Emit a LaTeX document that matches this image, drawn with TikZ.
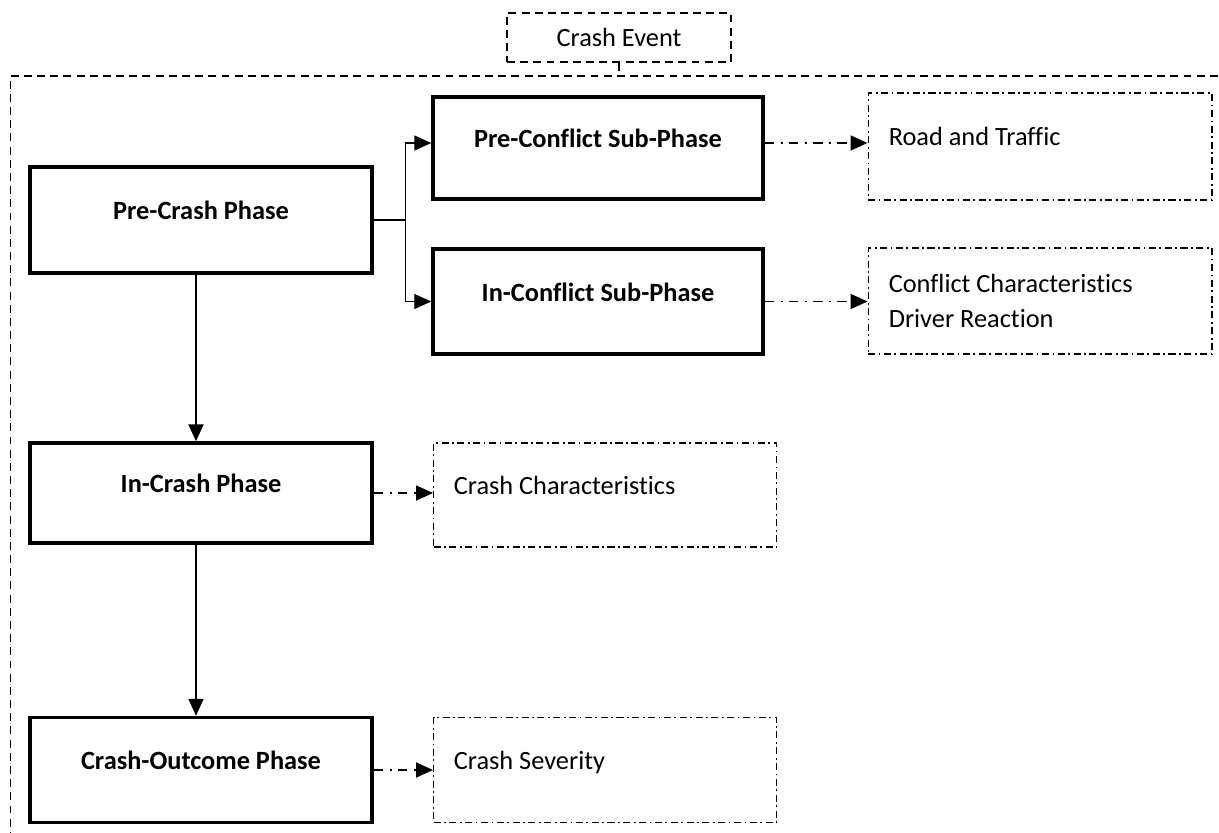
\documentclass[tikz,border=0pt]{standalone}
\usepackage{fontspec}
\setmainfont{Carlito}[Ligatures=NoCommon]
\usetikzlibrary{
    arrows.meta,
    positioning
}

\begin{document}
\begin{tikzpicture}[x=0.02cm,y=-0.02cm,font=\fontsize{15}{20}\selectfont,
    phasebox/.style={draw,line width=2pt,font=\fontsize{15}{20}\selectfont\bfseries,
        minimum width=6.84cm,text height=11pt,text depth=11.5pt},
    factorbox/.style={draw,line width=0.6pt,dash pattern=on 4pt off 2pt on 1pt off 2pt,
        inner xsep=0.4cm,text width=6.05cm,align=flush left,minimum width=6.86cm},
    lifted/.style={text height=11pt,text depth=12pt},
    eventbox/.style={draw,line width=0.8pt,dash pattern=on 4.5pt off 3pt},
    flow/.style={-{Triangle[length=0.34cm,width=0.3cm]},line width=1.1pt},
    link/.style={-{Triangle[length=0.34cm,width=0.3cm]},line width=1pt,
        dash pattern=on 5.5pt off 3.5pt on 1.2pt off 3.5pt}]
    \useasboundingbox (0,0) rectangle (1219,832);
    \clip (0,0) rectangle (1219,832);

    % crash event and its frame
    \node[eventbox,minimum width=4.48cm,minimum height=0.98cm] (event) at (619,37.5) {Crash Event};
    \node[eventbox,line width=0.7pt,minimum width=24.32cm,minimum height=15.32cm] (frame) at (618,459) {};
    \draw[line width=0.7pt,dash pattern=on 4.5pt off 3pt] (event.south) -- (event.south |- frame.north);

    % phases
    \node[phasebox,minimum height=2.12cm] (precrash) at (201,220) {Pre-Crash Phase};
    \node[phasebox,minimum width=6.6cm,minimum height=2.04cm] (preconf) at (598,148) {Pre-Conflict Sub-Phase};
    \node[phasebox,minimum width=6.6cm,minimum height=2.1cm] (inconf) at (598,301.5) {In-Conflict Sub-Phase};
    \node[phasebox,minimum height=2cm] (incrash) at (201,493) {In-Crash Phase};
    \node[phasebox,minimum height=2.1cm] (outcome) at (201,770) {Crash-Outcome Phase};

    % factors
    \node[factorbox,lifted,minimum width=6.88cm,minimum height=2.14cm] (road) at (1040,146.5) {Road and Traffic};
    \node[factorbox,minimum width=6.88cm,minimum height=2.12cm] (confchar) at (1040,301) {Conflict Characteristics\\Driver Reaction};
    \node[factorbox,lifted,minimum height=2.08cm] (crashchar) at (605,495) {Crash Characteristics};
    \node[factorbox,lifted,minimum height=2.1cm] (severity) at (605,770) {Crash Severity};

    % connectors
    \coordinate (fork) at ([xshift=0.64cm]precrash.east);
    \draw[line width=0.7pt] (precrash.east) -- (fork);
    \draw[flow,line width=0.8pt] (fork) |- ([yshift=0.1cm]preconf.west);
    \draw[flow,line width=0.8pt] (fork) |- (inconf.west);
    \draw[flow] ([xshift=-0.1cm]precrash.south) -- ([xshift=-0.1cm]incrash.north);
    \draw[flow] ([xshift=-0.1cm]incrash.south) -- ([xshift=-0.1cm]outcome.north);

    \draw[link] ([yshift=0.1cm]preconf.east) -- ([yshift=0.1cm]preconf.east -| road.west);
    \draw[link] (inconf.east) -- (inconf.east -| confchar.west);
    \draw[link] (incrash.east) -- (incrash.east -| crashchar.west);
    \draw[link] (outcome.east) -- (outcome.east -| severity.west);
\end{tikzpicture}
\end{document}
